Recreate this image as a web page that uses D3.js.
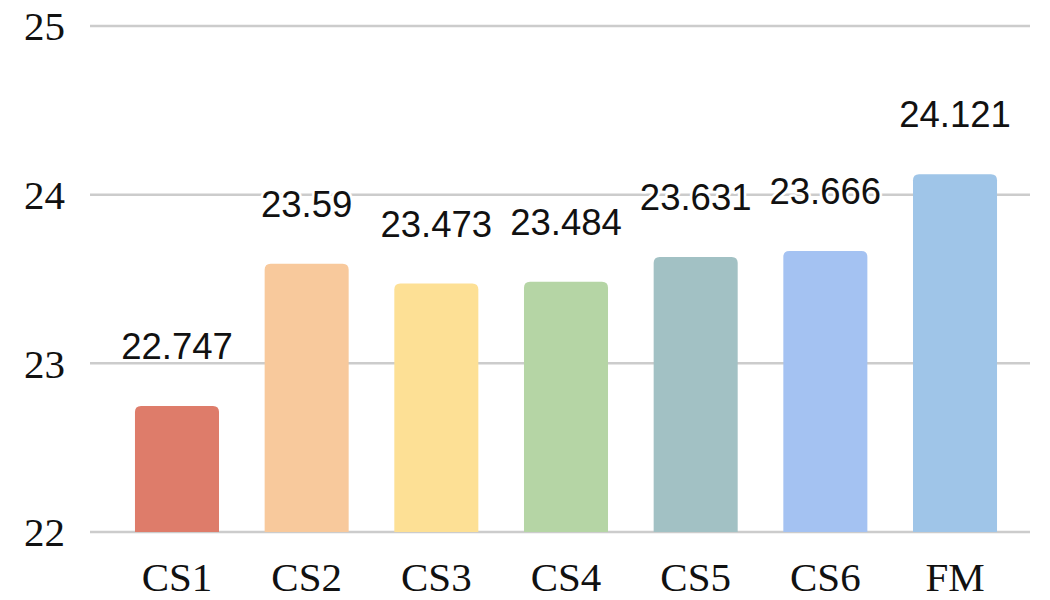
<!DOCTYPE html>
<html><head><meta charset="utf-8">
<script src="https://cdn.jsdelivr.net/npm/d3@7"></script>
<style>body{margin:0;background:#fff}svg{display:block}</style>
</head><body>
<svg id="c" width="1050" height="600"></svg>
<script>
const categories = ["CS1","CS2","CS3","CS4","CS5","CS6","FM"];
const values = [22.747, 23.59, 23.473, 23.484, 23.631, 23.666, 24.121];
const labels = ["22.747","23.59","23.473","23.484","23.631","23.666","24.121"];
const colors = ["#DE7C6A","#F8C99C","#FDE095","#B5D5A5","#A2C1C4","#A4C2F2","#9FC5E8"];
const yTicks = [22, 23, 24, 25];

const svg = d3.select("#c");
const y = d3.scaleLinear().domain([22, 25]).range([532, 26]);
const x = d3.scaleBand().domain(categories).range([112.15, 1019.85]).paddingInner(0.352).paddingOuter(0.176);

// gridlines
svg.append("g").selectAll("line").data(yTicks).join("line")
  .attr("x1", 90).attr("x2", 1030)
  .attr("y1", d => y(d)).attr("y2", d => y(d))
  .attr("stroke", "#cccccc").attr("stroke-width", 2.5);

// y labels
svg.append("g").selectAll("text").data(yTicks).join("text")
  .attr("x", 65).attr("y", d => y(d)).attr("dy", "0.35em")
  .attr("text-anchor", "end")
  .attr("font-family", "Liberation Serif, Times New Roman, serif")
  .attr("font-size", 41).attr("fill", "#111")
  .text(d => d);

// bars with rounded top corners
const r = 6;
svg.append("g").selectAll("path").data(values).join("path")
  .attr("fill", (d, i) => colors[i])
  .attr("d", (d, i) => {
    const x0 = x(categories[i]), w = x.bandwidth(), y0 = y(d), y1 = y(22);
    return `M${x0},${y1} L${x0},${y0 + r} Q${x0},${y0} ${x0 + r},${y0} L${x0 + w - r},${y0} Q${x0 + w},${y0} ${x0 + w},${y0 + r} L${x0 + w},${y1} Z`;
  });

// value labels
svg.append("g").selectAll("text").data(values).join("text")
  .attr("x", (d, i) => x(categories[i]) + x.bandwidth() / 2)
  .attr("y", d => y(d) - 47)
  .attr("text-anchor", "middle")
  .attr("font-family", "Liberation Sans, Arial, sans-serif")
  .attr("font-size", 36.5).attr("fill", "#111")
  .attr("stroke", "#fff").attr("stroke-width", 5).attr("paint-order", "stroke")
  .attr("stroke-linejoin", "round")
  .text((d, i) => labels[i]);

// category labels
svg.append("g").selectAll("text").data(categories).join("text")
  .attr("x", d => x(d) + x.bandwidth() / 2)
  .attr("y", 591)
  .attr("text-anchor", "middle")
  .attr("font-family", "Liberation Serif, Times New Roman, serif")
  .attr("font-size", 41).attr("fill", "#111")
  .text(d => d);
</script>
</body></html>
